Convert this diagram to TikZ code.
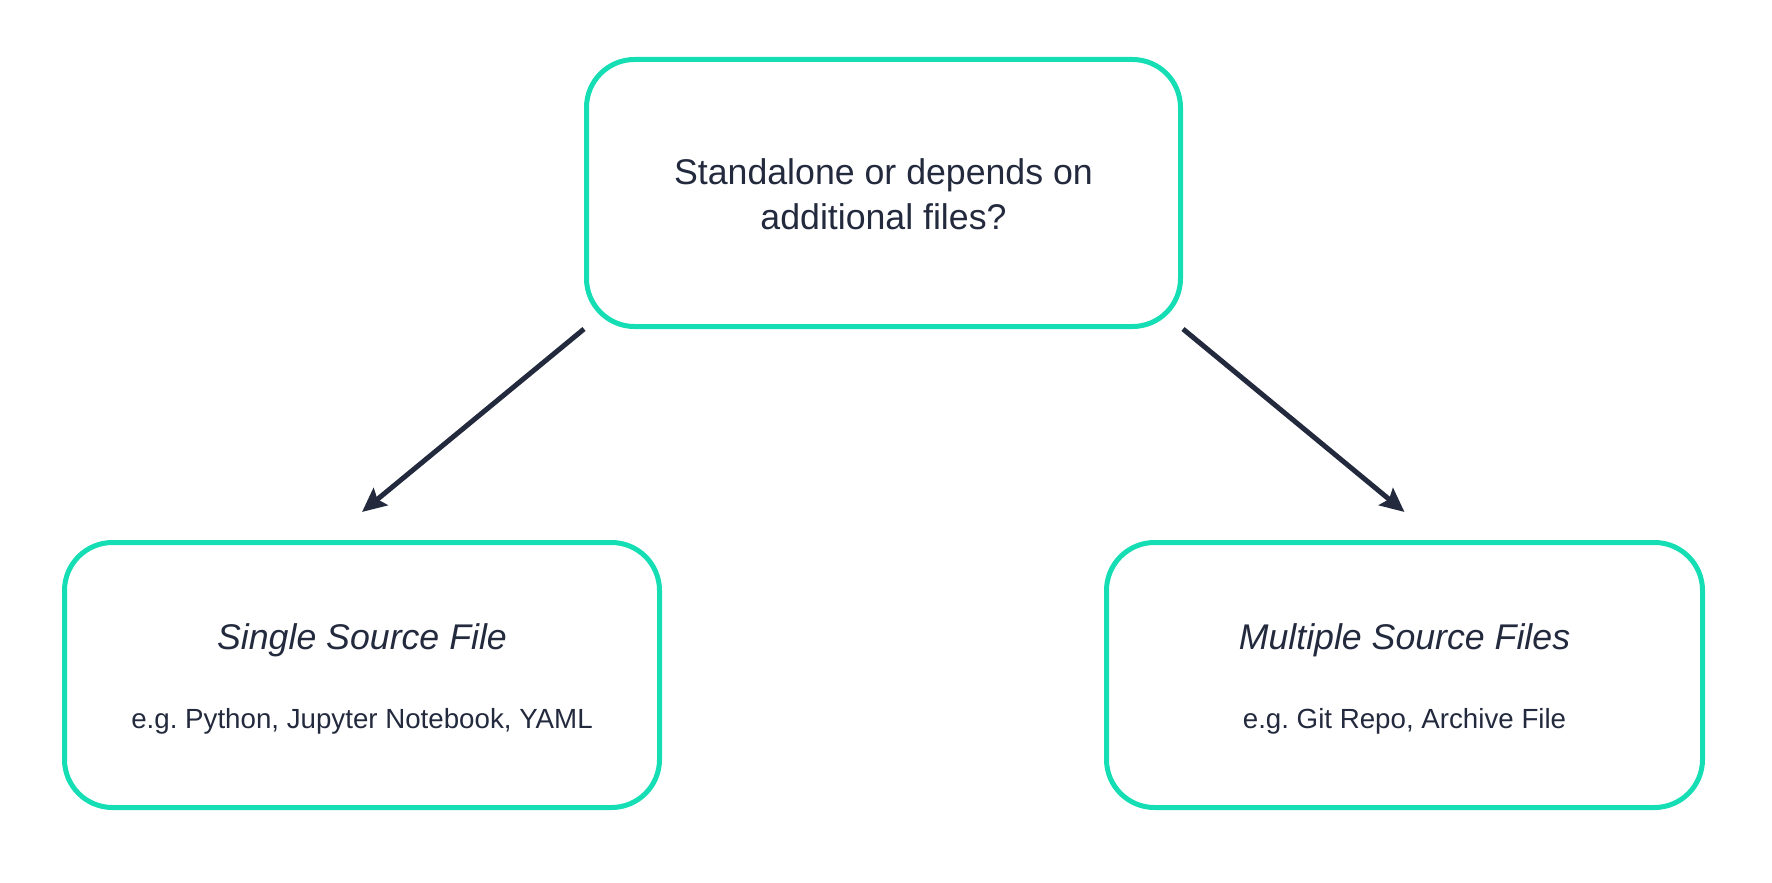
\documentclass[tikz,border=0pt]{standalone}
\usepackage{fontspec}
\setmainfont{Liberation Sans}
\usetikzlibrary{arrows.meta,calc}
\definecolor{boxgreen}{RGB}{22,222,180}
\definecolor{inkdark}{RGB}{35,42,62}
\tikzset{
  box/.style={draw=boxgreen, line width=5pt, rounded corners=48pt, fill=white, inner sep=0pt},
  qtext/.style={text=inkdark, align=center, font=\fontsize{35.7}{44.3}\selectfont},
  titletext/.style={text=inkdark, font=\fontsize{35.7}{40}\selectfont\itshape},
  subtext/.style={text=inkdark, font=\fontsize{27.7}{32}\selectfont},
  flow/.style={draw=inkdark, line width=5pt, -{Stealth[length=24pt,width=22pt,inset=4pt]}}
}
\begin{document}
\frenchspacing
\begin{tikzpicture}[x=1pt,y=-1pt]
\useasboundingbox (0,0) rectangle (1772,883);
\node[box, minimum width=594pt, minimum height=267pt] (top) at (883.5,193) {};
\node[qtext] (q) at ([yshift=-1.2pt]top.center) {Standalone or depends on\\additional files?};
\node[box, minimum width=595pt, minimum height=265pt] (left) at (362,675) {};
\node[box, minimum width=596pt, minimum height=265pt] (right) at (1404.5,675) {};
\node[titletext] (lt) at ([yshift=35.2pt]left.center) {Single Source File};
\node[subtext] (ls) at ([yshift=-46.8pt]left.center) {e.g. Python, Jupyter Notebook, YAML};
\node[titletext] (rt) at ([yshift=35.2pt]right.center) {Multiple Source Files};
\node[subtext] (rs) at ([yshift=-46.8pt]right.center) {e.g. Git Repo, Archive File};
\coordinate (lend) at ([yshift=28pt]left.north);
\coordinate (rend) at ([yshift=28pt]right.north);
\draw[flow] (top.south west) -- (lend);
\draw[flow] (top.south east) -- (rend);
\end{tikzpicture}
\end{document}
